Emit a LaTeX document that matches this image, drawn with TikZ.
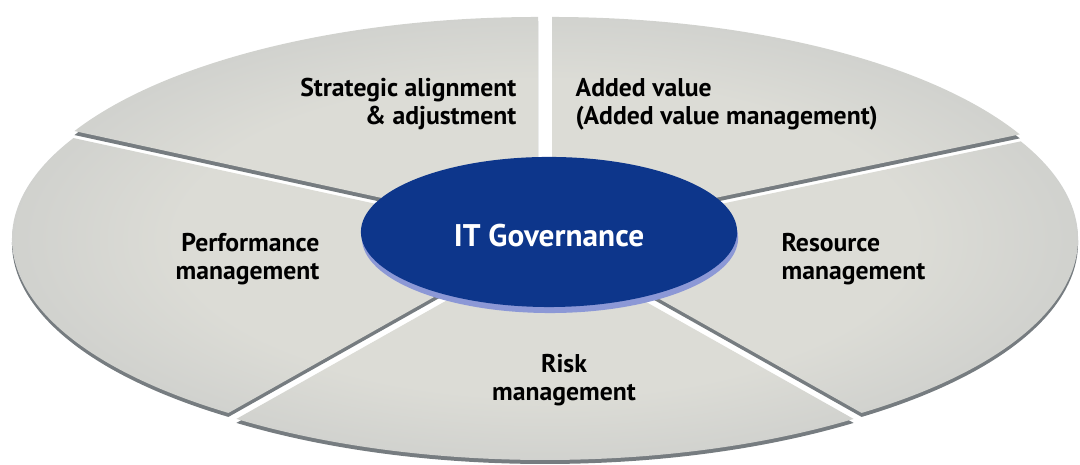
\documentclass[tikz,border=0pt]{standalone}
\usepackage{fontspec}
\setmainfont{PT Sans}
\usepackage{tikz}
\usetikzlibrary{shapes.geometric, shadows}
\usetikzlibrary{positioning}
\definecolor{govblue}{RGB}{13,54,139}
\definecolor{govshadow}{RGB}{140,152,214}
\definecolor{rimgray}{RGB}{118,124,128}
\definecolor{innergray}{RGB}{220,220,214}
\definecolor{outergray}{RGB}{186,189,190}
\pgfdeclareradialshading{segshade}{\pgfpointorigin}{color(0bp)=(innergray); color(9bp)=(innergray); color(21bp)=(outergray); color(50bp)=(outergray)}
\tikzstyle{segtext} = [font=\bfseries\fontsize{7.3}{8}\selectfont, text=black, inner sep=0pt]
\tikzstyle{govnode} = [ellipse, fill=govblue, minimum width=3.76cm, minimum height=1.5cm, inner sep=0pt, drop shadow={shadow xshift=0.01cm, shadow yshift=-0.06cm, fill=govshadow, opacity=1}]
\tikzstyle{govtext} = [font=\bfseries\fontsize{8.9}{10}\selectfont, text=white, inner sep=0pt]

\begin{document}
\begin{tikzpicture}[x=0.01cm, y=0.01cm,
    seg/.style 2 args={insert path={(545,228) -- ++(#1:525 and 215) arc[start angle=#1, end angle=#2, x radius=525, y radius=215] -- cycle}}]
\useasboundingbox (0,0) rectangle (1080,465);
% five segments, pulled apart, each with a dark rim below
\foreach \a/\b/\dx/\dy in {90/152/-7/5, 152/234/-8/-2, 234/306/0/-8, 306/387/8/-2, 27/90/7/5}{
  \begin{scope}[shift={(\dx,\dy)}]
    \fill[rimgray, shift={(0,-4)}, seg={\a}{\b}];
    \begin{scope}
      \clip[seg={\a}{\b}];
      \shade[shading=segshade] (545,228) ellipse [x radius=1000, y radius=420];
    \end{scope}
  \end{scope}
}
% centre
\node[govnode] (gov) at (549,233) {};
\node[govtext] (govlabel) at ([yshift=-0.04cm]gov.center) {IT Governance};
% segment labels
\node[segtext, align=right, anchor=east] (strategic) at (517,361) {Strategic alignment\\\& adjustment};
\node[segtext, align=left, anchor=west] (added) at (575,361) {Added value\\(Added value management)};
\node[segtext, align=right, anchor=east] (performance) at (320,206) {Performance\\management};
\node[segtext, align=left, anchor=west] (resource) at (781,206) {Resource\\management};
\node[segtext, align=center] (risk) at (564,85) {Risk\\management};
\end{tikzpicture}
\end{document}
